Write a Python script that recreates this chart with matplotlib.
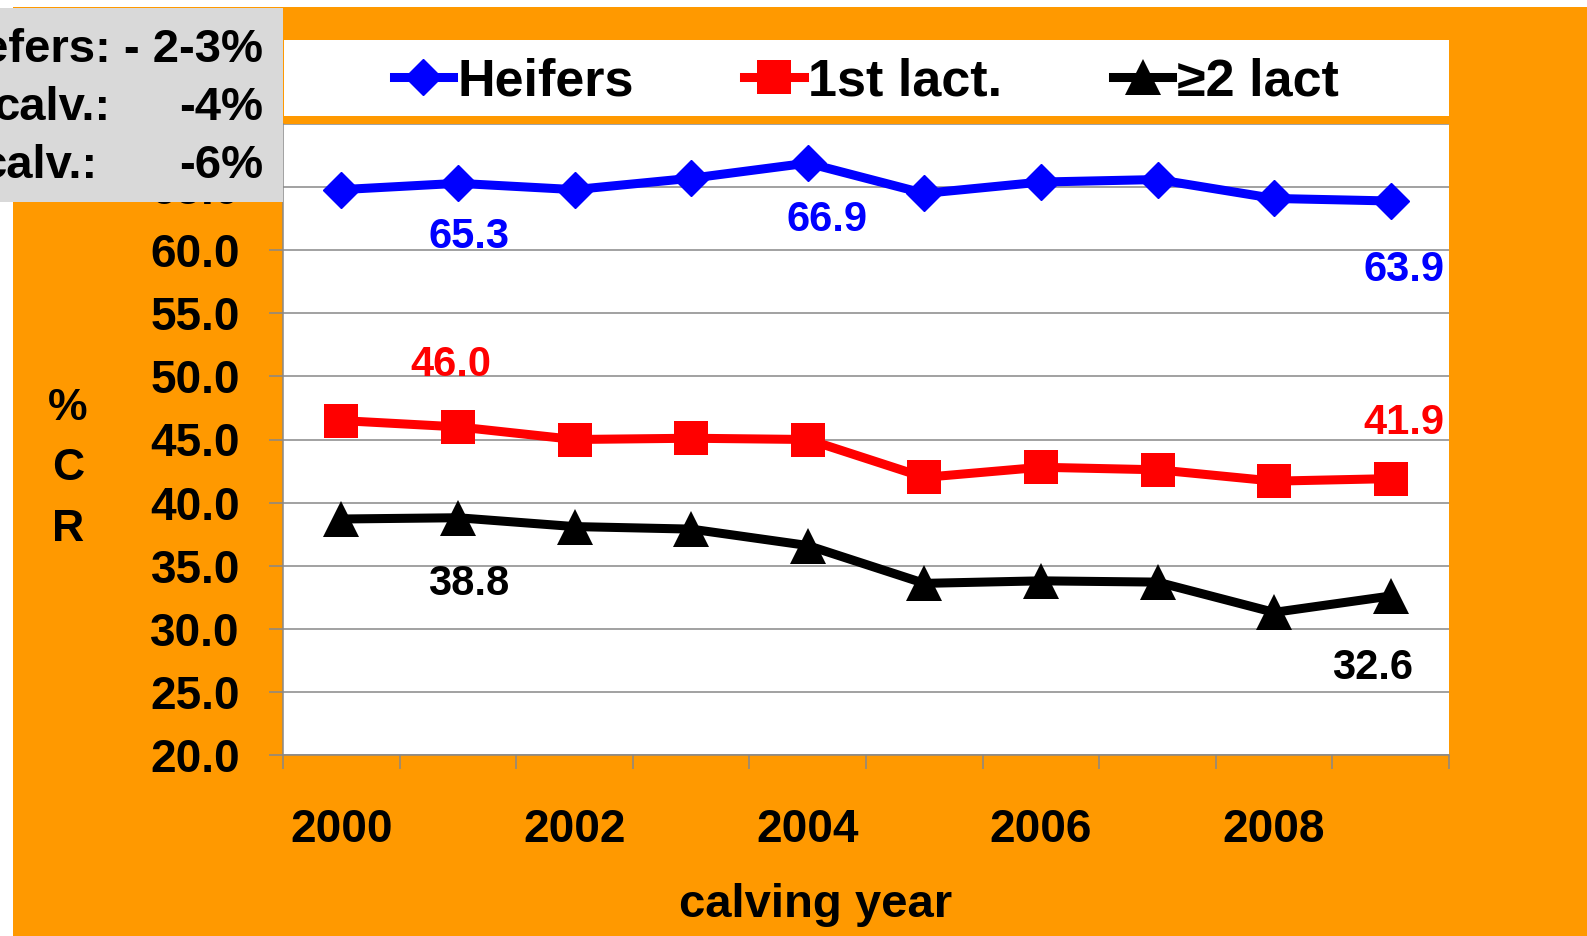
import matplotlib
import matplotlib.pyplot as plt
from matplotlib.patches import Rectangle
matplotlib.use('Agg')

years = [2000, 2001, 2002, 2003, 2004, 2005, 2006, 2007, 2008, 2009]
heifers = [64.8, 65.3, 64.8, 65.7, 66.9, 64.5, 65.4, 65.6, 64.1, 63.9]
first_lact = [46.5, 46.0, 45.0, 45.1, 45.0, 42.0, 42.8, 42.6, 41.7, 41.9]
later_lact = [38.7, 38.8, 38.1, 37.9, 36.6, 33.6, 33.8, 33.7, 31.3, 32.6]
series_names = ["Heifers", "1st lact.", "\u22652 lact"]
yticks = [20, 25, 30, 35, 40, 45, 50, 55, 60, 65, 70]
box_lines = [("efers: - 2-3%", None), ("calv.:", "-4%"), ("calv.:", "-6%")]

ORANGE = "#FF9900"
GRID = "#888888"


def main():
    plt.rcParams['font.family'] = ['Liberation Sans', 'DejaVu Sans']
    plt.rcParams['font.weight'] = 'bold'

    fig = plt.figure(figsize=(15.87, 9.36), dpi=100, facecolor="white")
    W, H = 1587, 936

    def fx(px):
        return px / W

    def fy(py):
        return 1 - py / H

    # orange background
    fig.add_artist(Rectangle((fx(13), 0), 1 - fx(13), fy(7), transform=fig.transFigure,
                             facecolor=ORANGE, edgecolor="none", zorder=-10))
    # white legend strip
    fig.add_artist(Rectangle((fx(284), fy(116)), fx(1449 - 284), (116 - 40) / H,
                             transform=fig.transFigure, facecolor="white",
                             edgecolor="none", zorder=-5))

    ax = fig.add_axes([fx(283), fy(755), fx(1449 - 283), (755 - 124) / H])
    ax.set_facecolor("white")

    x = list(range(len(years)))
    l1, = ax.plot(x, heifers, color="#0000FF", lw=6.5, marker="D", ms=18.5,
                  mew=1, label=series_names[0], zorder=5, clip_on=False)
    l2, = ax.plot(x, first_lact, color="#FF0000", lw=6.5, marker="s", ms=25,
                  mew=0, label=series_names[1], zorder=5, clip_on=False)
    l3, = ax.plot(x, later_lact, color="black", lw=6.5, marker="^", ms=26,
                  mew=0, label=series_names[2], zorder=5, clip_on=False)

    # data labels (index, offset in pixels)
    labels = [
        (heifers, "#0000FF", [(1, 11, -54), (4, 19, -57), (9, 13, -69)]),
        (first_lact, "#FF0000", [(1, -7, 62), (9, 13, 56)]),
        (later_lact, "black", [(1, 11, -66), (9, -18, -72)]),
    ]
    for vals, col, items in labels:
        for i, dx, dy in items:
            ax.annotate(f"{vals[i]:.1f}", (x[i], vals[i]), xytext=(dx, dy),
                        textcoords="offset pixels", ha="center", va="center",
                        fontsize=30, fontweight="bold", color=col, zorder=6)

    ax.set_xlim(-0.5, len(years) - 0.5)
    ax.set_ylim(20, 70)
    ax.set_yticks(yticks)
    # the 70.0 label sits fully under the grey note box
    ax.set_yticklabels([f"{v:.1f}" if v < 70 else "" for v in yticks])
    ax.yaxis.grid(True, color=GRID, lw=1.1)
    ax.set_axisbelow(True)

    ax.set_xticks([i - 0.5 for i in range(len(years) + 1)])
    ax.set_xticklabels([])
    ax.set_xticks(x[::2], minor=True)
    ax.set_xticklabels([str(y) for y in years[::2]], minor=True)
    ax.tick_params(axis="x", which="major", length=10, width=1.1, color=GRID)
    ax.tick_params(axis="x", which="minor", length=0, pad=38, labelsize=33)
    ax.tick_params(axis="y", length=10, width=1.1, color=GRID, pad=21,
                   labelsize=33)

    for side in ["top", "right"]:
        ax.spines[side].set_visible(False)
    for side in ["left", "bottom"]:
        ax.spines[side].set_color(GRID)
        ax.spines[side].set_linewidth(1.1)

    ax.set_xlabel("calving year", fontsize=34, fontweight="bold", va="center")
    ax.xaxis.set_label_coords((816 - 283) / 1166, (755 - 905) / 631)
    ax.set_ylabel("%\nC\nR", fontsize=32, fontweight="bold", rotation=0,
                  va="center", ha="center", linespacing=1.62)
    ax.yaxis.set_label_coords((68 - 283) / 1166, (755 - 469) / 631)

    fig.legend(handles=[l1, l2, l3], loc="center",
               bbox_to_anchor=(fx(866), fy(82)), ncol=3, frameon=False,
               prop={"size": 37.5, "weight": "bold"}, handlelength=1.14,
               handletextpad=0.08, columnspacing=2.13, borderpad=0)

    # gray note box on top
    fig.add_artist(Rectangle((0, fy(202)), fx(283), (202 - 8) / H,
                             transform=fig.transFigure, facecolor="#D9D9D9",
                             edgecolor="none", zorder=10))
    rows_y = [50, 108, 166]
    left_right = [None, 110, 97]
    for (left, right), py, lr in zip(box_lines, rows_y, left_right):
        if right is None:
            fig.text(fx(263), fy(py), left, ha="right", va="center",
                     fontsize=34, fontweight="bold", zorder=11)
        else:
            fig.text(fx(lr), fy(py), left, ha="right", va="center",
                     fontsize=34, fontweight="bold", zorder=11)
            fig.text(fx(263), fy(py), right, ha="right", va="center",
                     fontsize=34, fontweight="bold", zorder=11)

    plt.savefig("out.png", dpi=100)


if __name__ == "__main__":
    main()
